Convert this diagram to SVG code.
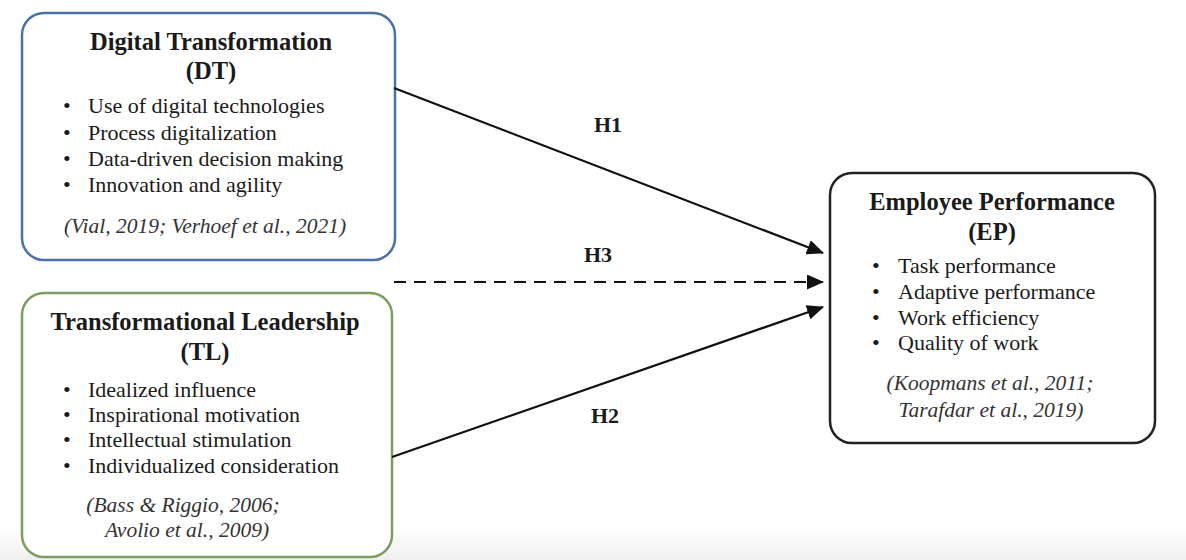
<svg xmlns="http://www.w3.org/2000/svg" width="1186" height="560" viewBox="0 0 1186 560">
<defs>
<linearGradient id="bg" x1="0" y1="0" x2="0" y2="1">
<stop offset="0" stop-color="#ffffff"/>
<stop offset="1" stop-color="#efefef"/>
</linearGradient>
<marker id="ah" markerWidth="17" markerHeight="15" refX="16" refY="7.5" orient="auto" markerUnits="userSpaceOnUse">
<path d="M0,0 L17,7.5 L0,15 Z" fill="#111"/>
</marker>
<style>
.box{fill:#fff;stroke-width:2.5}
.t{font-family:"Liberation Serif","Times New Roman",serif;fill:#1a1a1a}
.title{font-size:24.5px;font-weight:bold;text-anchor:middle}
.item{font-size:22px}
.cite{font-size:21.5px;font-style:italic;text-anchor:middle;fill:#333}
.hl{font-size:22px;font-weight:bold;text-anchor:middle}
.ln{stroke:#111;stroke-width:2.2;fill:none}
</style>
</defs>
<rect x="0" y="0" width="1186" height="560" fill="#fff"/>
<rect x="0" y="525" width="1186" height="35" fill="url(#bg)"/>
<g id="node-dt">
<rect class="box" x="22" y="13" width="373" height="247" rx="22" stroke="#4a72a6"/>
<text class="t title" x="211" y="50">Digital Transformation</text>
<text class="t title" x="211" y="79">(DT)</text>
<text class="t item" x="63" y="113">•</text><text class="t item" x="88" y="113">Use of digital technologies</text>
<text class="t item" x="63" y="140">•</text><text class="t item" x="88" y="140">Process digitalization</text>
<text class="t item" x="63" y="166">•</text><text class="t item" x="88" y="166">Data-driven decision making</text>
<text class="t item" x="63" y="192">•</text><text class="t item" x="88" y="192">Innovation and agility</text>
<text class="t cite" x="205" y="233">(Vial, 2019; Verhoef et al., 2021)</text>
</g>
<g id="node-tl">
<rect class="box" x="22" y="293" width="370" height="264" rx="22" stroke="#7a9e60"/>
<text class="t title" x="205" y="330">Transformational Leadership</text>
<text class="t title" x="205" y="360">(TL)</text>
<text class="t item" x="63" y="397">•</text><text class="t item" x="88" y="397">Idealized influence</text>
<text class="t item" x="63" y="422">•</text><text class="t item" x="88" y="422">Inspirational motivation</text>
<text class="t item" x="63" y="447">•</text><text class="t item" x="88" y="447">Intellectual stimulation</text>
<text class="t item" x="63" y="473">•</text><text class="t item" x="88" y="473">Individualized consideration</text>
<text class="t cite" x="183" y="512">(Bass &amp; Riggio, 2006;</text>
<text class="t cite" x="187" y="537">Avolio et al., 2009)</text>
</g>
<g id="node-ep">
<rect class="box" x="830" y="173" width="325" height="270" rx="22" stroke="#222"/>
<text class="t title" x="992" y="210">Employee Performance</text>
<text class="t title" x="992" y="240">(EP)</text>
<text class="t item" x="872" y="273">•</text><text class="t item" x="898" y="273">Task performance</text>
<text class="t item" x="872" y="299">•</text><text class="t item" x="898" y="299">Adaptive performance</text>
<text class="t item" x="872" y="325">•</text><text class="t item" x="898" y="325">Work efficiency</text>
<text class="t item" x="872" y="350">•</text><text class="t item" x="898" y="350">Quality of work</text>
<text class="t cite" x="990" y="390">(Koopmans et al., 2011;</text>
<text class="t cite" x="991" y="417">Tarafdar et al., 2019)</text>
</g>
<g id="connectors">
<line class="ln" x1="394" y1="88" x2="823" y2="253" marker-end="url(#ah)"/>
<line class="ln" x1="394" y1="282" x2="823" y2="282" stroke-dasharray="12,8" marker-end="url(#ah)"/>
<line class="ln" x1="392" y1="457" x2="823" y2="307" marker-end="url(#ah)"/>
<text class="t hl" x="608" y="132">H1</text>
<text class="t hl" x="598" y="262">H3</text>
<text class="t hl" x="605" y="423">H2</text>
</g>
</svg>
